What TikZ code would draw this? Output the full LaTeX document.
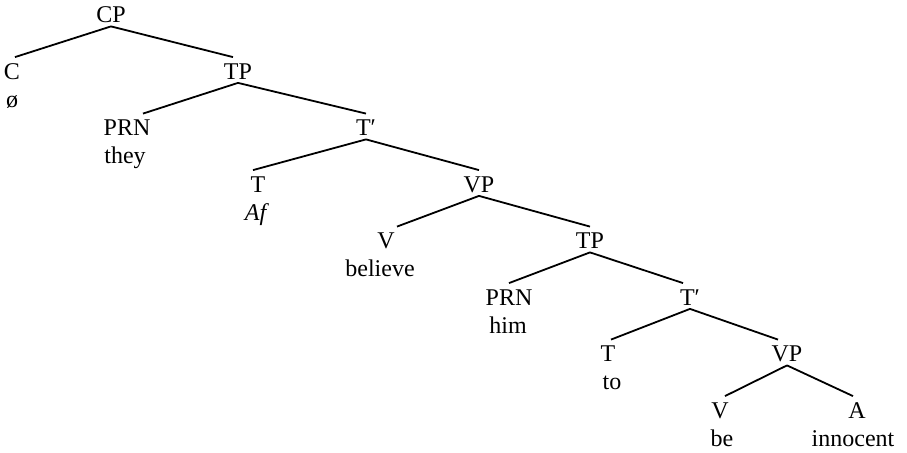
\documentclass[tikz,border=0pt]{standalone}
\usepackage{fontspec}
\setmainfont{Liberation Serif}
\usetikzlibrary{positioning}

\begin{document}
\begin{tikzpicture}[
  x=0.5pt, y=-0.5pt,
  cat/.style={anchor=base, inner sep=1.5pt, text height=9.5pt, text depth=0pt,
              font=\fontsize{12}{14}\selectfont},
  word/.style={anchor=base, inner sep=2pt, font=\fontsize{12}{14}\selectfont},
  branch/.style={line width=0.9pt},
]
\useasboundingbox (0,0) rectangle (907,453);

% ---- CP ----
\node[cat] (cp) at (111, 23) {CP};
\node[cat] (c) at (12, 79.5) {C};
\node[word] (cw) at (12, 107.5) {ø};
\node[cat] (tp) at (238, 79.5) {TP};

% ---- upper TP ----
\node[cat] (prn) at (127, 136) {PRN};
\node[word] (prnw) at (125, 164) {they};
\node[cat] (tbar) at (366, 136) {T′};

% ---- upper T' ----
\node[cat] (t) at (258, 192.5) {T};
\node[word] (tw) at (257, 220.5) {\textit{Af}};
\node[cat] (vp) at (479, 192.5) {VP};

% ---- upper VP ----
\node[cat] (v) at (386, 249) {V};
\node[word] (vw) at (380, 277) {believe};
\node[cat] (tpb) at (590, 249) {TP};

% ---- lower TP ----
\node[cat] (prnb) at (509, 305.5) {PRN};
\node[word] (prnbw) at (508, 333.5) {him};
\node[cat] (tbarb) at (690, 305.5) {T′};

% ---- lower T' ----
\node[cat] (tb) at (608, 362) {T};
\node[word] (tbw) at (612, 390) {to};
\node[cat] (vpb) at (787, 362) {VP};

% ---- lower VP ----
\node[cat] (vb) at (720, 418.5) {V};
\node[word] (vbw) at (722, 446.5) {be};
\node[cat] (a) at (857, 418.5) {A};
\node[word] (aw) at (853, 446.5) {innocent};

% ---- branches ----
\draw[branch] (cp.south) -- ([xshift=1.5pt]c.north);
\draw[branch] (cp.south) -- ([xshift=-2.5pt]tp.north);
\draw[branch] (tp.south) -- ([xshift=8pt]prn.north);
\draw[branch] (tp.south) -- (tbar.north);
\draw[branch] (tbar.south) -- ([xshift=-2.5pt]t.north);
\draw[branch] (tbar.south) -- (vp.north);
\draw[branch] (vp.south) -- ([xshift=5.5pt]v.north);
\draw[branch] (vp.south) -- (tpb.north);
\draw[branch] (tpb.south) -- (prnb.north);
\draw[branch] (tpb.south) -- ([xshift=-3.5pt]tbarb.north);
\draw[branch] (tbarb.south) -- ([xshift=1.5pt]tb.north);
\draw[branch] (tbarb.south) -- ([xshift=-4.5pt]vpb.north);
\draw[branch] (vpb.south) -- ([xshift=2.5pt]vb.north);
\draw[branch] (vpb.south) -- ([xshift=-2pt]a.north);

\end{tikzpicture}
\end{document}
